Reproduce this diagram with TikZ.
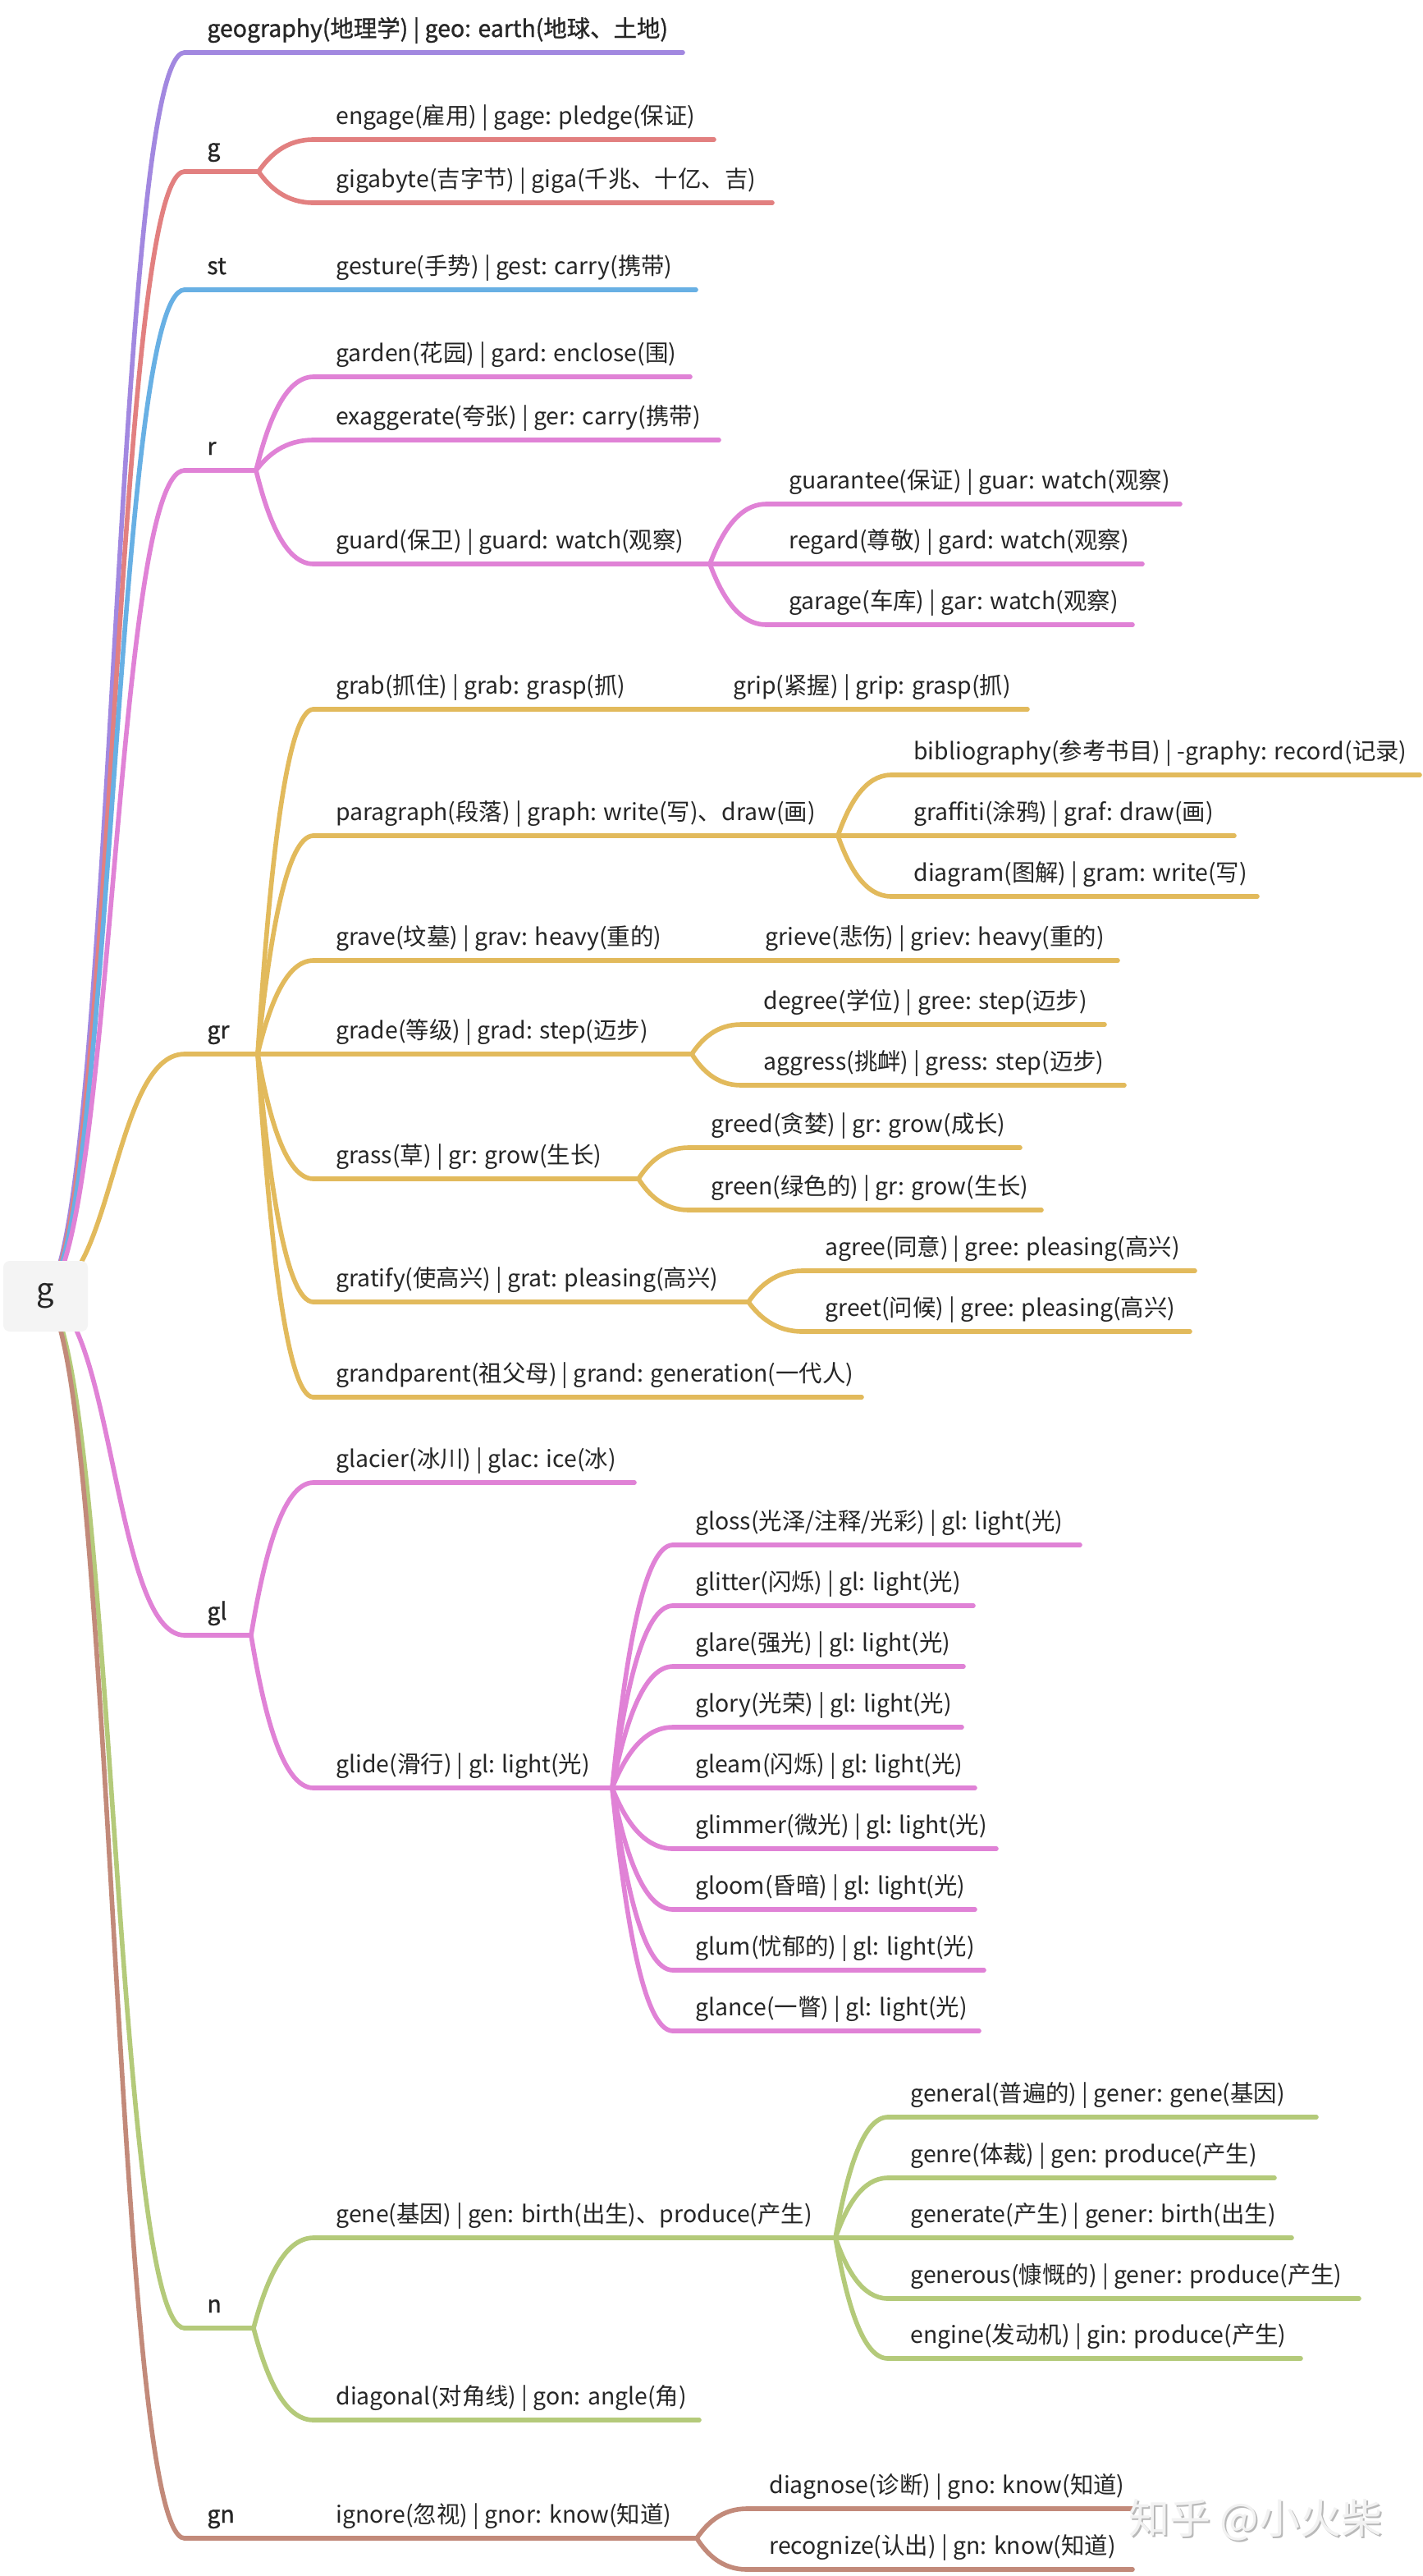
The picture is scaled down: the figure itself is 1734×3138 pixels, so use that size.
\documentclass[tikz,border=0pt]{standalone}
\usepackage{fontspec}
\setmainfont{Noto Sans CJK SC}
\newfontfamily\lvone{Noto Sans CJK SC}[FakeBold=1]
\usetikzlibrary{calc}
\definecolor{purp}{RGB}{162,136,224}
\definecolor{redc}{RGB}{226,128,128}
\definecolor{bluec}{RGB}{104,176,228}
\definecolor{pink}{RGB}{224,130,214}
\definecolor{gold}{RGB}{226,186,92}
\definecolor{greenc}{RGB}{180,202,122}
\definecolor{brown}{RGB}{194,138,122}
\definecolor{txtc}{RGB}{38,38,38}
\definecolor{rootfill}{RGB}{244,244,244}
\tikzset{
  ln/.style={line width=2.8pt, line cap=round},
  lbl/.style={anchor=base west, inner sep=0pt, text=txtc, font=\fontsize{14.2}{17}\selectfont},
  lblone/.style={lbl, font=\fontsize{14.2}{17}\selectfont\lvone},
}
% node: name, x-start, y-line, x-end, colour, text, label style
\newcommand\mmnode[7]{%
  \coordinate (#1-s) at (#2,#3);
  \coordinate (#1-e) at (#4,#3);
  \draw[ln,#5] (#1-s) -- (#1-e);
  \node[#7] (#1) at (#2+27,#3-19) {#6};
}
\newcommand\mmfork[3]{%
  \draw[ln,#3] let \p1=(#1), \p2=(#2) in (\p1) .. controls ({\x1+0.2*(\x2-\x1)},{\y1+0.5*(\y2-\y1)}) and ({\x1+0.5*(\x2-\x1)},\y2) .. (\p2);}
\newcommand\mmroot[3]{%
  \draw[ln,#3] let \p1=(#1), \p2=(#2) in (\p1) .. controls ({0.5*(\x1+\x2)},\y1) and ({0.5*(\x1+\x2)},\y2) .. (\p2);}
\begin{document}
\begin{tikzpicture}[x=0.5pt,y=-0.5pt]
\fill[white] (0,0) rectangle (1734,3138);
\useasboundingbox (0,0) rectangle (1734,3138);
\coordinate (rootc) at (50,1578);

% ---- level 1
\mmnode{geo}{225}{64}{832}{purp}{geography(地理学) | geo: earth(地球、土地)}{lblone}
\mmnode{g1}{225}{209}{315}{redc}{g}{lblone}
\mmnode{st}{225}{353}{312}{bluec}{st}{lblone}
\mmnode{r}{225}{573}{312}{pink}{r}{lblone}
\mmnode{gr}{225}{1284}{314}{gold}{gr}{lblone}
\mmnode{gl}{225}{1992}{306}{pink}{gl}{lblone}
\mmnode{n}{225}{2836}{309}{greenc}{n}{lblone}
\mmnode{gn}{225}{3092}{312}{brown}{gn}{lblone}
\mmroot{rootc}{geo-s}{purp}
\mmroot{rootc}{g1-s}{redc}
\mmroot{rootc}{st-s}{bluec}
\mmroot{rootc}{r-s}{pink}
\mmroot{rootc}{gr-s}{gold}
\mmroot{rootc}{gl-s}{pink}
\mmroot{rootc}{n-s}{greenc}
\mmroot{rootc}{gn-s}{brown}

% ---- g
\mmnode{engage}{382}{170}{870}{redc}{engage(雇用) | gage: pledge(保证)}{lbl}
\mmnode{gigabyte}{382}{247}{941}{redc}{gigabyte(吉字节) | giga(千兆、十亿、吉)}{lbl}
\mmfork{g1-e}{engage-s}{redc}
\mmfork{g1-e}{gigabyte-s}{redc}

% ---- st
\mmnode{gesture}{382}{353}{848}{bluec}{gesture(手势) | gest: carry(携带)}{lbl}
\mmfork{st-e}{gesture-s}{bluec}

% ---- r
\mmnode{garden}{382}{459}{841}{pink}{garden(花园) | gard: enclose(围)}{lbl}
\mmnode{exagg}{382}{536}{876}{pink}{exaggerate(夸张) | ger: carry(携带)}{lbl}
\mmnode{guard}{382}{687}{865}{pink}{guard(保卫) | guard: watch(观察)}{lbl}
\mmfork{r-e}{garden-s}{pink}
\mmfork{r-e}{exagg-s}{pink}
\mmfork{r-e}{guard-s}{pink}
\mmnode{guarantee}{934}{614}{1438}{pink}{guarantee(保证) | guar: watch(观察)}{lbl}
\mmnode{regard}{934}{687}{1392}{pink}{regard(尊敬) | gard: watch(观察)}{lbl}
\mmnode{garage}{934}{761}{1380}{pink}{garage(车库) | gar: watch(观察)}{lbl}
\mmfork{guard-e}{guarantee-s}{pink}
\mmfork{guard-e}{regard-s}{pink}
\mmfork{guard-e}{garage-s}{pink}

% ---- gr
\mmnode{grab}{382}{864}{840}{gold}{grab(抓住) | grab: grasp(抓)}{lbl}
\mmnode{grip}{866}{864}{1252}{gold}{grip(紧握) | grip: grasp(抓)}{lbl}
\mmnode{paragraph}{382}{1018}{1021}{gold}{paragraph(段落) | graph: write(写)、draw(画)}{lbl}
\mmnode{biblio}{1086}{944}{1730}{gold}{bibliography(参考书目) | -graphy: record(记录)}{lbl}
\mmnode{graffiti}{1086}{1018}{1504}{gold}{graffiti(涂鸦) | graf: draw(画)}{lbl}
\mmnode{diagram}{1086}{1092}{1532}{gold}{diagram(图解) | gram: write(写)}{lbl}
\mmnode{grave}{382}{1170}{880}{gold}{grave(坟墓) | grav: heavy(重的)}{lbl}
\mmnode{grieve}{905}{1170}{1362}{gold}{grieve(悲伤) | griev: heavy(重的)}{lbl}
\mmnode{grade}{382}{1284}{843}{gold}{grade(等级) | grad: step(迈步)}{lbl}
\mmnode{degree}{903}{1248}{1346}{gold}{degree(学位) | gree: step(迈步)}{lbl}
\mmnode{aggress}{903}{1322}{1370}{gold}{aggress(挑衅) | gress: step(迈步)}{lbl}
\mmnode{grass}{382}{1436}{778}{gold}{grass(草) | gr: grow(生长)}{lbl}
\mmnode{greed}{839}{1398}{1243}{gold}{greed(贪婪) | gr: grow(成长)}{lbl}
\mmnode{green}{839}{1474}{1269}{gold}{green(绿色的) | gr: grow(生长)}{lbl}
\mmnode{gratify}{382}{1586}{912}{gold}{gratify(使高兴) | grat: pleasing(高兴)}{lbl}
\mmnode{agree}{978}{1548}{1456}{gold}{agree(同意) | gree: pleasing(高兴)}{lbl}
\mmnode{greet}{978}{1622}{1450}{gold}{greet(问候) | gree: pleasing(高兴)}{lbl}
\mmnode{grandparent}{382}{1702}{1050}{gold}{grandparent(祖父母) | grand: generation(一代人)}{lbl}
\mmfork{gr-e}{grab-s}{gold}
\mmfork{gr-e}{paragraph-s}{gold}
\mmfork{gr-e}{grave-s}{gold}
\mmfork{gr-e}{grade-s}{gold}
\mmfork{gr-e}{grass-s}{gold}
\mmfork{gr-e}{gratify-s}{gold}
\mmfork{gr-e}{grandparent-s}{gold}
\mmfork{grab-e}{grip-s}{gold}
\mmfork{paragraph-e}{biblio-s}{gold}
\mmfork{paragraph-e}{graffiti-s}{gold}
\mmfork{paragraph-e}{diagram-s}{gold}
\mmfork{grave-e}{grieve-s}{gold}
\mmfork{grade-e}{degree-s}{gold}
\mmfork{grade-e}{aggress-s}{gold}
\mmfork{grass-e}{greed-s}{gold}
\mmfork{grass-e}{green-s}{gold}
\mmfork{gratify-e}{agree-s}{gold}
\mmfork{gratify-e}{greet-s}{gold}

% ---- gl
\mmnode{glacier}{382}{1806}{773}{pink}{glacier(冰川) | glac: ice(冰)}{lbl}
\mmnode{glide}{382}{2178}{746}{pink}{glide(滑行) | gl: light(光)}{lbl}
\mmfork{gl-e}{glacier-s}{pink}
\mmfork{gl-e}{glide-s}{pink}
\mmnode{gloss}{820}{1882}{1316}{pink}{gloss(光泽/注释/光彩) | gl: light(光)}{lbl}
\mmnode{glitter}{820}{1956}{1186}{pink}{glitter(闪烁) | gl: light(光)}{lbl}
\mmnode{glare}{820}{2030}{1174}{pink}{glare(强光) | gl: light(光)}{lbl}
\mmnode{glory}{820}{2104}{1172}{pink}{glory(光荣) | gl: light(光)}{lbl}
\mmnode{gleam}{820}{2178}{1188}{pink}{gleam(闪烁) | gl: light(光)}{lbl}
\mmnode{glimmer}{820}{2252}{1214}{pink}{glimmer(微光) | gl: light(光)}{lbl}
\mmnode{gloom}{820}{2326}{1188}{pink}{gloom(昏暗) | gl: light(光)}{lbl}
\mmnode{glum}{820}{2400}{1199}{pink}{glum(忧郁的) | gl: light(光)}{lbl}
\mmnode{glance}{820}{2474}{1193}{pink}{glance(一瞥) | gl: light(光)}{lbl}
\foreach \c in {gloss,glitter,glare,glory,gleam,glimmer,gloom,glum,glance}{\mmfork{glide-e}{\c-s}{pink}}

% ---- n
\mmnode{gene}{382}{2726}{1018}{greenc}{gene(基因) | gen: birth(出生)、produce(产生)}{lbl}
\mmnode{diagonal}{382}{2948}{852}{greenc}{diagonal(对角线) | gon: angle(角)}{lbl}
\mmfork{n-e}{gene-s}{greenc}
\mmfork{n-e}{diagonal-s}{greenc}
\mmnode{general}{1082}{2579}{1604}{greenc}{general(普遍的) | gener: gene(基因)}{lbl}
\mmnode{genre}{1082}{2653}{1553}{greenc}{genre(体裁) | gen: produce(产生)}{lbl}
\mmnode{generate}{1082}{2726}{1574}{greenc}{generate(产生) | gener: birth(出生)}{lbl}
\mmnode{generous}{1082}{2800}{1656}{greenc}{generous(慷慨的) | gener: produce(产生)}{lbl}
\mmnode{engine}{1082}{2873}{1585}{greenc}{engine(发动机) | gin: produce(产生)}{lbl}
\foreach \c in {general,genre,generate,generous,engine}{\mmfork{gene-e}{\c-s}{greenc}}

% ---- gn
\mmnode{ignore}{382}{3092}{849}{brown}{ignore(忽视) | gnor: know(知道)}{lbl}
\mmfork{gn-e}{ignore-s}{brown}
\mmnode{diagnose}{910}{3056}{1380}{brown}{diagnose(诊断) | gno: know(知道)}{lbl}
\mmnode{recognize}{910}{3130}{1380}{brown}{recognize(认出) | gn: know(知道)}{lbl}
\mmfork{ignore-e}{diagnose-s}{brown}
\mmfork{ignore-e}{recognize-s}{brown}

% ---- root
\node[fill=rootfill, rounded corners=4pt, minimum width=51.5pt, minimum height=43pt, inner sep=0pt, text=txtc, font=\fontsize{19}{22}\selectfont] (root) at (55.5,1579) {g};

% ---- watermark
\node[text=gray!55, font=\fontsize{25}{30}\selectfont] (wmshadow) at (1532,3072) {知乎 @小火柴};
\node[text=gray!10, font=\fontsize{25}{30}\selectfont] (wm) at (1530,3070) {知乎 @小火柴};
\end{tikzpicture}
\end{document}
